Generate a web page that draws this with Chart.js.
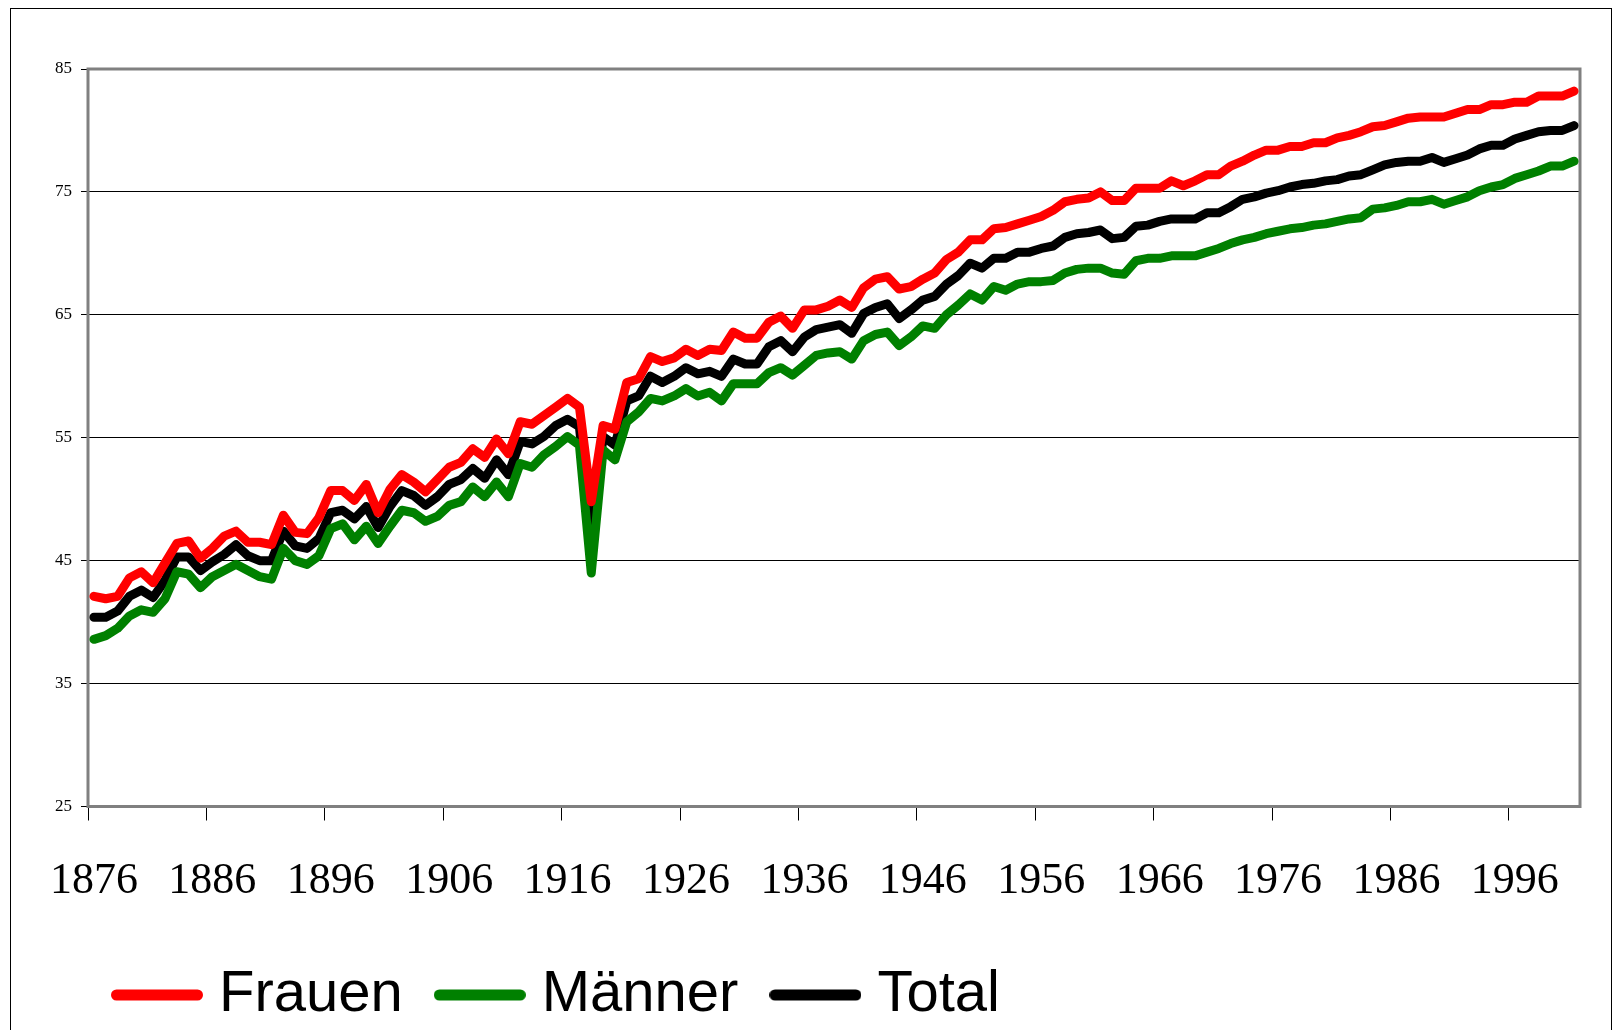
<!DOCTYPE html>
<html lang="de">
<head>
<meta charset="utf-8">
<title>Lebenserwartung Frauen / Männer / Total</title>
<script src="https://cdn.jsdelivr.net/npm/chart.js@4.4.0/dist/chart.umd.min.js"></script>
<style>
    html, body { margin: 0; padding: 0; background: #fff; }
    #lifeChart { display: block; }
</style>
</head>
<body>
<canvas id="lifeChart" width="1615" height="1030"></canvas>
<script>
// 年（カテゴリ）1876〜2001
const years = [];
for (let y = 1876; y <= 2001; y++) {
    years.push(String(y));
}

// X軸に表示する年ラベル
const yearTicks = ['1876', '1886', '1896', '1906', '1916', '1926', '1936', '1946', '1956', '1966', '1976', '1986', '1996'];

// Y軸の範囲
const yMin = 25;
const yMax = 85;
const yStep = 10;

// 系列データ
const frauen = [
    42.1, 41.9, 42.1, 43.6, 44.1, 43.2, 44.8, 46.4, 46.6, 45.2,
    46.0, 47.0, 47.4, 46.5, 46.5, 46.3, 48.7, 47.3, 47.2, 48.5,
    50.7, 50.7, 49.9, 51.2, 48.9, 50.8, 52.0, 51.4, 50.6, 51.6,
    52.6, 53.0, 54.1, 53.4, 54.9, 53.7, 56.3, 56.1, 56.8, 57.5,
    58.2, 57.5, 49.8, 56.0, 55.7, 59.5, 59.8, 61.6, 61.2, 61.5,
    62.2, 61.7, 62.2, 62.1, 63.6, 63.1, 63.1, 64.4, 64.9, 63.9,
    65.4, 65.4, 65.7, 66.2, 65.6, 67.2, 67.9, 68.1, 67.1, 67.3,
    67.9, 68.4, 69.5, 70.1, 71.1, 71.1, 72.0, 72.1, 72.4, 72.7,
    73.0, 73.5, 74.2, 74.4, 74.5, 75.0, 74.3, 74.3, 75.3, 75.3,
    75.3, 75.9, 75.5, 75.9, 76.4, 76.4, 77.1, 77.5, 78.0, 78.4,
    78.4, 78.7, 78.7, 79.0, 79.0, 79.4, 79.6, 79.9, 80.3, 80.4,
    80.7, 81.0, 81.1, 81.1, 81.1, 81.4, 81.7, 81.7, 82.1, 82.1,
    82.3, 82.3, 82.8, 82.8, 82.8, 83.2
];

const maenner = [
    38.6, 38.9, 39.5, 40.5, 41.0, 40.8, 41.9, 44.1, 43.9, 42.8,
    43.7, 44.2, 44.7, 44.2, 43.7, 43.5, 46.0, 45.0, 44.7, 45.4,
    47.6, 48.0, 46.7, 47.8, 46.4, 47.8, 49.1, 48.9, 48.2, 48.6,
    49.5, 49.8, 51.0, 50.2, 51.4, 50.2, 52.9, 52.6, 53.6, 54.3,
    55.1, 54.4, 44.0, 54.0, 53.2, 56.3, 57.1, 58.2, 58.0, 58.4,
    59.0, 58.4, 58.7, 58.0, 59.4, 59.4, 59.4, 60.3, 60.7, 60.1,
    60.9, 61.7, 61.9, 62.0, 61.4, 62.9, 63.4, 63.6, 62.5, 63.2,
    64.1, 63.9, 65.0, 65.8, 66.7, 66.2, 67.3, 67.0, 67.5, 67.7,
    67.7, 67.8, 68.4, 68.7, 68.8, 68.8, 68.4, 68.3, 69.4, 69.6,
    69.6, 69.8, 69.8, 69.8, 70.1, 70.4, 70.8, 71.1, 71.3, 71.6,
    71.8, 72.0, 72.1, 72.3, 72.4, 72.6, 72.8, 72.9, 73.6, 73.7,
    73.9, 74.2, 74.2, 74.4, 74.0, 74.3, 74.6, 75.1, 75.4, 75.6,
    76.1, 76.4, 76.7, 77.1, 77.1, 77.5
];

const total = [
    40.4, 40.4, 40.9, 42.1, 42.6, 42.0, 43.4, 45.3, 45.3, 44.2,
    44.9, 45.5, 46.3, 45.4, 45.0, 45.0, 47.4, 46.2, 46.0, 46.8,
    48.9, 49.1, 48.4, 49.4, 47.7, 49.4, 50.7, 50.3, 49.5, 50.2,
    51.2, 51.6, 52.5, 51.7, 53.2, 52.0, 54.7, 54.5, 55.1, 56.0,
    56.5, 55.9, 46.5, 55.1, 54.4, 58.0, 58.4, 60.0, 59.5, 60.0,
    60.7, 60.2, 60.4, 60.0, 61.4, 61.0, 61.0, 62.4, 62.9, 62.0,
    63.2, 63.8, 64.0, 64.2, 63.5, 65.1, 65.6, 65.9, 64.7, 65.4,
    66.2, 66.5, 67.5, 68.2, 69.2, 68.8, 69.6, 69.6, 70.1, 70.1,
    70.4, 70.6, 71.3, 71.6, 71.7, 71.9, 71.2, 71.3, 72.2, 72.3,
    72.6, 72.8, 72.8, 72.8, 73.3, 73.3, 73.8, 74.4, 74.6, 74.9,
    75.1, 75.4, 75.6, 75.7, 75.9, 76.0, 76.3, 76.4, 76.8, 77.2,
    77.4, 77.5, 77.5, 77.8, 77.4, 77.7, 78.0, 78.5, 78.8, 78.8,
    79.3, 79.6, 79.9, 80.0, 80.0, 80.4
];

// 凡例用の線サンプル（端が丸い太線）
function makeLegendLine(color) {
    const c = document.createElement('canvas');
    c.width = 92;
    c.height = 14;
    const g = c.getContext('2d');
    g.strokeStyle = color;
    g.lineWidth = 11;
    g.lineCap = 'round';
    g.beginPath();
    g.moveTo(5.5, 7);
    g.lineTo(86.5, 7);
    g.stroke();
    return c;
}

// 枠線とプロットエリアの境界を描くプラグイン
const framePlugin = {
    id: 'frame',
    beforeDraw(chart) {
        const ctx = chart.ctx;
        ctx.save();
        ctx.fillStyle = '#ffffff';
        ctx.fillRect(0, 0, chart.width, chart.height);
        ctx.strokeStyle = '#000000';
        ctx.lineWidth = 1;
        ctx.strokeRect(10.5, 8.5, 1601, 1100);
        ctx.restore();
    },
    beforeDatasetsDraw(chart) {
        const ctx = chart.ctx;
        const a = chart.chartArea;
        ctx.save();
        ctx.strokeStyle = '#808080';
        ctx.lineWidth = 3;
        ctx.strokeRect(a.left, a.top, a.right - a.left, a.bottom - a.top);
        ctx.restore();
    },
    afterLayout(chart) {
        // 凡例の位置を左下に寄せる
        if (chart.legend) {
            chart.legend.left = 80;
            chart.legend.top = 922;
        }
    }
};

function makeSeries(label, data, color) {
    return {
        label: label,
        data: data,
        borderColor: color,
        backgroundColor: color,
        borderWidth: 9,
        borderCapStyle: 'round',
        borderJoinStyle: 'round',
        pointRadius: 0,
        pointHoverRadius: 0,
        tension: 0,
        fill: false
    };
}

const ctx = document.getElementById('lifeChart').getContext('2d');
new Chart(ctx, {
    type: 'line',
    data: {
        labels: years,
        datasets: [
            makeSeries('Frauen', frauen, '#ff0000'),
            makeSeries('Männer', maenner, '#008000'),
            makeSeries('Total', total, '#000000')
        ]
    },
    options: {
        responsive: false,
        devicePixelRatio: 1,
        animation: false,
        layout: {
            padding: { left: 0, right: 35, top: 69, bottom: 0 }
        },
        scales: {
            x: {
                type: 'category',
                offset: true,
                afterFit: (scale) => { scale.height = 111.5; },
                grid: {
                    offset: true,
                    drawOnChartArea: false,
                    drawTicks: true,
                    tickLength: 14,
                    lineWidth: 1,
                    tickColor: (c) => (c.tick && yearTicks.includes(years[c.index]) ? '#000000' : 'rgba(0,0,0,0)')
                },
                border: { display: false },
                ticks: {
                    autoSkip: false,
                    maxRotation: 0,
                    minRotation: 0,
                    padding: 35,
                    color: '#000000',
                    font: { family: '"Liberation Serif", "Times New Roman", serif', size: 44 },
                    callback: function(value) {
                        const lab = this.getLabelForValue(value);
                        return yearTicks.includes(lab) ? lab : '';
                    }
                }
            },
            y: {
                min: yMin,
                max: yMax,
                afterFit: (scale) => { scale.width = 88; },
                grid: {
                    color: '#000000',
                    lineWidth: 1,
                    drawTicks: true,
                    tickLength: 7,
                    tickColor: '#000000'
                },
                border: { display: false },
                ticks: {
                    stepSize: yStep,
                    padding: 9,
                    color: '#000000',
                    font: { family: '"Liberation Serif", "Times New Roman", serif', size: 17 }
                }
            }
        },
        plugins: {
            legend: {
                display: true,
                position: 'bottom',
                align: 'start',
                labels: {
                    usePointStyle: true,
                    pointStyleWidth: 66,
                    padding: 44,
                    color: '#000000',
                    font: { family: '"Liberation Sans", Arial, sans-serif', size: 58 },
                    // 凡例の線サンプルを差し替える
                    generateLabels: (chart) => {
                        const items = Chart.defaults.plugins.legend.labels.generateLabels(chart);
                        items.forEach((item) => {
                            const ds = chart.data.datasets[item.datasetIndex];
                            item.pointStyle = makeLegendLine(ds.borderColor);
                        });
                        return items;
                    }
                }
            },
            tooltip: { enabled: false }
        }
    },
    plugins: [framePlugin]
});
</script>
</body>
</html>
